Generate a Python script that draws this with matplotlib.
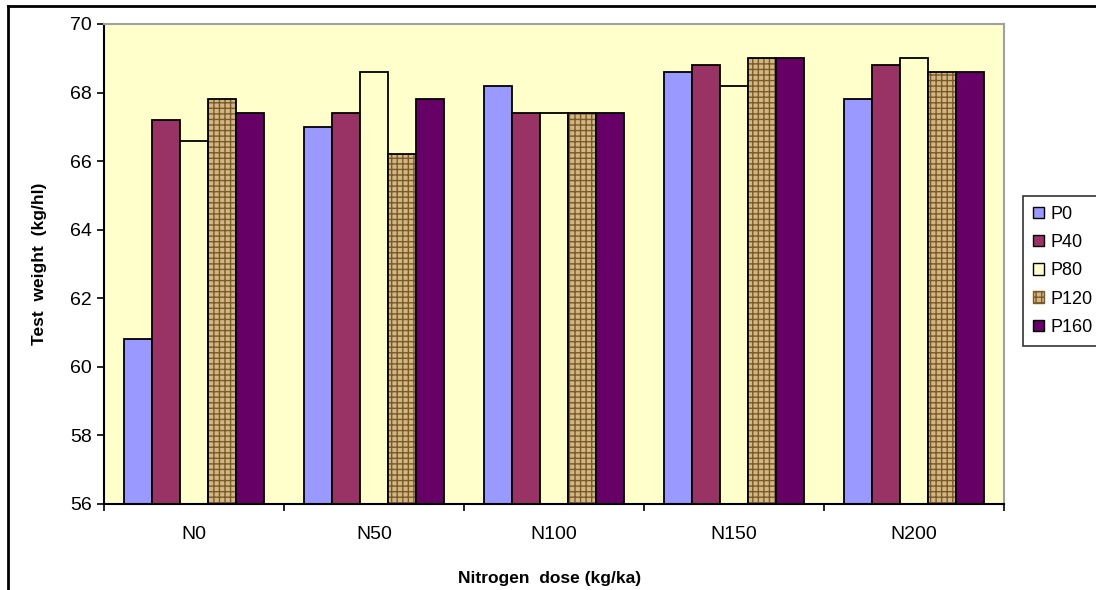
"""Test weight by nitrogen and phosphorus dose."""

import matplotlib.pyplot as plt
import numpy as np
from matplotlib.lines import Line2D
from matplotlib.patches import Patch

plt.rcParams['font.family'] = ['Liberation Sans', 'DejaVu Sans']

groups = ['N0', 'N50', 'N100', 'N150', 'N200']
series = ['P0', 'P40', 'P80', 'P120', 'P160']
values = {
    'P0':   [60.8, 67.0, 68.2, 68.6, 67.8],
    'P40':  [67.2, 67.4, 67.4, 68.8, 68.8],
    'P80':  [66.6, 68.6, 67.4, 68.2, 69.0],
    'P120': [67.8, 66.2, 67.4, 69.0, 68.6],
    'P160': [67.4, 67.8, 67.4, 69.0, 68.6],
}
colors = ['#9999ff', '#993366', '#ffffcc', '#d2b783', '#660066']
y_ticks = [56, 58, 60, 62, 64, 66, 68, 70]

fig = plt.figure(figsize=(10.96, 5.9), dpi=100)
ax = fig.add_axes([104 / 1096, 86 / 590, 900 / 1096, 480 / 590])
ax.set_facecolor('#ffffcc')

x = np.arange(len(groups))
width = 1 / 6.43
handles = []
for i, name in enumerate(series):
    pos = x + (i - 2) * width
    vals = values[name]
    if name == 'P120':
        ax.bar(pos, np.array(vals) - 56, width, bottom=56, color=colors[i],
               edgecolor='#7a5a2a', hatch='+++', linewidth=0)
        ax.bar(pos, np.array(vals) - 56, width, bottom=56, fill=False,
               edgecolor='black', linewidth=1.3)
        handles.append(Patch(facecolor=colors[i], edgecolor='#7a5a2a', hatch='+++', label=name))
    else:
        ax.bar(pos, np.array(vals) - 56, width, bottom=56, color=colors[i],
               edgecolor='black', linewidth=1.3)
        handles.append(Patch(facecolor=colors[i], edgecolor='black', label=name))

ax.set_xlim(-0.5, len(groups) - 0.5)
ax.set_ylim(56, 70)
ax.set_yticks(y_ticks)
ax.set_xticks(x)
ax.set_xticklabels(groups)
ax.set_xticks(np.arange(-0.5, len(groups)), minor=True)
ax.tick_params(axis='x', which='major', length=0, pad=16, labelsize=14)
ax.tick_params(axis='x', which='minor', length=5, width=1.2, direction='out')
ax.tick_params(axis='y', length=5, width=1.2, direction='out', pad=4, labelsize=14)

for side in ['top', 'right']:
    ax.spines[side].set_color('#a0a0a0')
    ax.spines[side].set_linewidth(1.5)
for side in ['left', 'bottom']:
    ax.spines[side].set_linewidth(1.5)

fig.text(40 / 1096, 1 - 264 / 590, 'Test  weight  (kg/hl)', rotation=90,
         ha='center', va='center', fontsize=12.5, fontweight='bold')
fig.text(550 / 1096, 1 - 579 / 590, 'Nitrogen  dose (kg/ka)',
         ha='center', va='center', fontsize=12.5, fontweight='bold')

leg = fig.legend(handles=handles, loc='upper left',
                 bbox_to_anchor=(1023 / 1096, 1 - 196 / 590),
                 fontsize=13, handlelength=0.6, handleheight=0.6,
                 handletextpad=0.35, labelspacing=0.62, borderpad=0.55,
                 fancybox=False, frameon=True, borderaxespad=0)
leg.get_frame().set_edgecolor('black')
leg.get_frame().set_linewidth(1.2)

# outer chart border
fig.add_artist(Line2D([8 / 1096, 8 / 1096], [0, 1 - 6 / 590], color='black', lw=2))
fig.add_artist(Line2D([8 / 1096, 1], [1 - 6 / 590, 1 - 6 / 590], color='black', lw=2))

fig.savefig('out.png', dpi=100)
